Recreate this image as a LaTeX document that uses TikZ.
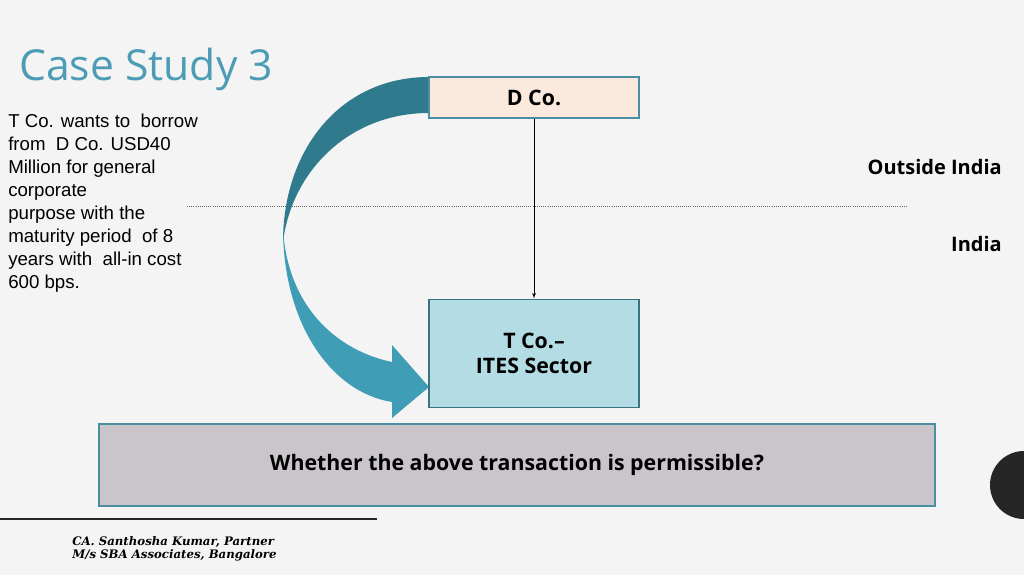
\documentclass[tikz,border=0pt]{standalone}
\usepackage{fontspec}
\setmainfont{Liberation Sans}
\newfontfamily\opensans{Open Sans}
\newfontfamily\footfont{DejaVu Serif}
\usetikzlibrary{shapes,arrows,positioning,calc}

\definecolor{slidebg}{HTML}{F4F4F4}
\definecolor{titleblue}{HTML}{4B9CB4}
\definecolor{peach}{HTML}{FBE9DE}
\definecolor{paleblue}{HTML}{B3DCE5}
\definecolor{greylilac}{HTML}{C9C5CB}
\definecolor{edgeteal}{HTML}{4A8EA1}
\definecolor{darkteal}{HTML}{2F7A8D}
\definecolor{midteal}{HTML}{3F9DB5}

\begin{document}
\begin{tikzpicture}[x=0.75pt, y=-0.75pt, >=latex',
    box/.style={draw=edgeteal, rectangle, line width=0.8pt, inner sep=0pt, align=center, font=\opensans\bfseries\fontsize{16}{19}\selectfont},
    region/.style={font=\opensans\bfseries\fontsize{15}{17}\selectfont, anchor=east, inner sep=0pt}]
    \fill [slidebg] (0,0) rectangle (1024,575);
    \useasboundingbox (0,0) rectangle (1024,575);

    % title and case text
    \node [anchor=base west, inner sep=0pt, text=titleblue, font=\opensans\fontsize{32}{38}\selectfont] (title) at (19,80) {Case Study 3};
    \node [anchor=north west, inner sep=0pt, align=left, font=\fontsize{14}{17.25}\selectfont] (story) at (8,114)
        {T Co. wants to~ borrow\\from~ D Co. USD40\\Million for general\\corporate\\purpose with the\\maturity period~ of 8\\years with~ all-in cost\\600 bps.};

    % border between the two regions
    \draw [densely dotted, gray!80!black, line width=0.6pt] (187,206) -- (907,206);
    \node [region] (outside) at (1002,167) {Outside India};
    \node [region] (india) at (1002,244) {India};

    % curved arrow from D Co. round to T Co.
    \fill [darkteal] (429,77) .. controls (340,77) and (283,150) .. (283,242)
        .. controls (292,170) and (350,113) .. (429,113) -- cycle;
    \fill [midteal] (283,228) .. controls (283,322) and (330,392) .. (392,402) -- (392,418) -- (429,387)
        -- (392,345) -- (392,362) .. controls (335,350) and (287,305) .. (283,228) -- cycle;

    % the two companies
    \node [box, fill=peach, minimum width=157.5pt, minimum height=30.75pt] (dco) at (534,97.5) {D Co.};
    \node [box, fill=paleblue, draw=edgeteal!80!black, minimum width=157.5pt, minimum height=81pt, below=135pt of dco] (tco) {T Co.–\\ITES Sector};
    \draw [->, line width=0.4pt] (dco) -- (tco);

    \node [box, fill=greylilac, minimum width=627pt, minimum height=61.5pt] (question) at (517,465) {Whether the above transaction is permissible?};

    % footer
    \fill [black!85] (1024,485) circle [radius=34];
    \draw [black!85, line width=1.6pt] (0,519) -- (377,519);
    \node [anchor=north west, inner sep=0pt, align=left, font=\footfont\bfseries\itshape\fontsize{8.8}{10}\selectfont] (sign) at (72,536)
        {CA. Santhosha Kumar, Partner\\M/s SBA Associates, Bangalore};
\end{tikzpicture}
\end{document}
